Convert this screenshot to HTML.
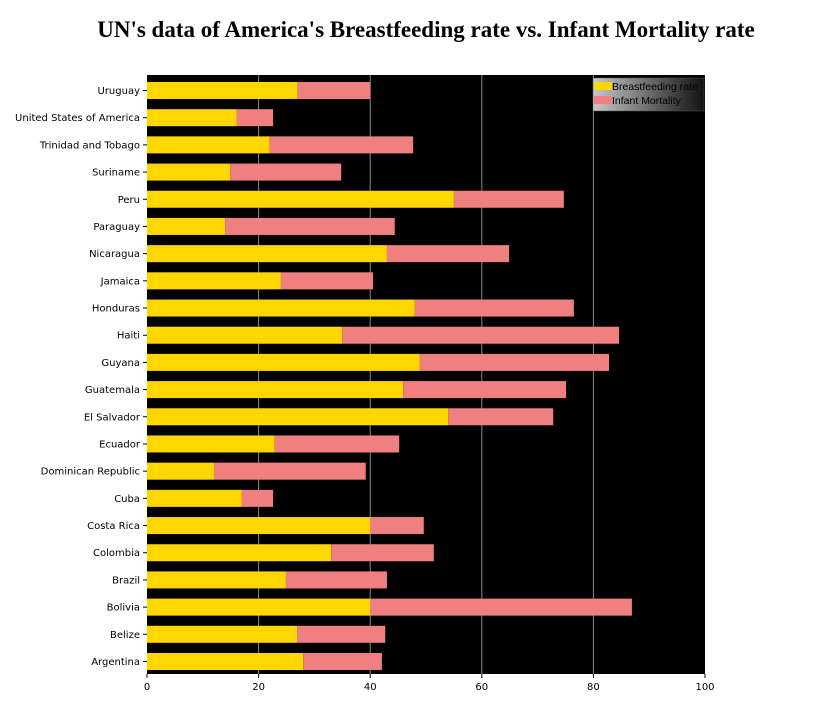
<!DOCTYPE html>
<html><head><meta charset="utf-8"><style>
body{margin:0;background:#fff;}
svg text{font-family:"DejaVu Sans","Liberation Sans",sans-serif;}
</style></head><body>
<svg id="chart" width="827" height="715" xmlns="http://www.w3.org/2000/svg">
<defs><linearGradient id="lg" x1="0" x2="1" y1="0" y2="0"><stop offset="0" stop-color="#c8c8c8"/><stop offset="1" stop-color="#111"/></linearGradient></defs>
<text x="426" y="37" text-anchor="middle" font-size="23" font-weight="bold" style="font-family:'Liberation Serif',serif">UN's data of America's Breastfeeding rate vs. Infant Mortality rate</text>
<rect x="147" y="75" width="558" height="599" fill="#000"/>
<g id="grid"></g><g id="bars"></g><g id="ylabels"></g><g id="xticks"></g>
<g>
<rect x="593" y="78" width="111" height="33" fill="url(#lg)" stroke="#555" stroke-width="0.5"/>
<rect x="594" y="82" width="18" height="8" fill="#FFD700"/>
<text x="612" y="90" font-size="10.5" fill="#000" style="font-family:'Liberation Sans',sans-serif">Breastfeeding rate</text>
<rect x="594" y="96" width="18" height="8" fill="#F08080"/>
<text x="612" y="104" font-size="10.5" fill="#000" style="font-family:'Liberation Sans',sans-serif">Infant Mortality</text>
</g>
</svg>
<script>
const categories=["Uruguay","United States of America","Trinidad and Tobago","Suriname","Peru","Paraguay","Nicaragua","Jamaica","Honduras","Haiti","Guyana","Guatemala","El Salvador","Ecuador","Dominican Republic","Cuba","Costa Rica","Colombia","Brazil","Bolivia","Belize","Argentina"];
const breastfeeding=[27,16.1,22,14.9,55,14,43,24,48,35,48.9,45.9,54,22.9,12,17,40,33,24.9,40,26.9,28];
const mortality=[13,6.5,25.7,19.9,19.7,30.4,21.9,16.5,28.5,49.6,33.9,29.2,18.8,22.3,27.2,5.6,9.6,18.4,18.1,46.9,15.8,14.1];
const xTicks=[0,20,40,60,80,100];
const NS="http://www.w3.org/2000/svg";
const x0=147,x1=705,yTop=75,yBot=674;
const xs=v=>x0+(v/100)*(x1-x0);
const firstC=90.5,lastC=661.5;
const step=(lastC-firstC)/(categories.length-1);
const yc=i=>firstC+step*i;
function mk(t,a,p){const e=document.createElementNS(NS,t);for(const k in a)e.setAttribute(k,a[k]);p.appendChild(e);return e;}
const grid=document.getElementById('grid'),bars=document.getElementById('bars'),yl=document.getElementById('ylabels'),xt=document.getElementById('xticks');
xTicks.forEach(v=>{
 if(v>0&&v<100){const l=mk('line',{x1:xs(v),x2:xs(v),y1:yTop,y2:yBot,stroke:'#888','stroke-width':1},grid);
 
 }
 const tk=mk('line',{x1:xs(v),x2:xs(v),y1:yBot,y2:yBot+4,stroke:'#000'},xt);
 
 
 const t=mk('text',{x:xs(v),y:yBot+16,'text-anchor':'middle','font-size':10},xt);t.textContent=v;
 
 
});
const bh=17;
categories.forEach((c,i)=>{
 const y=yc(i);
 const r1=mk('rect',{x:xs(0),y:y-bh/2,width:xs(breastfeeding[i])-xs(0),height:bh,fill:'#FFD700'},bars);
 
 
 const r2=mk('rect',{x:xs(breastfeeding[i]),y:y-bh/2,width:xs(breastfeeding[i]+mortality[i])-xs(breastfeeding[i]),height:bh,fill:'#F08080'},bars);
 
 
 const t=mk('text',{x:140,y:y+3.5,'text-anchor':'end','font-size':10},yl);t.textContent=c;
 
 
 const tk=mk('line',{x1:143,x2:147,y1:y,y2:y,stroke:'#000'},yl);
 
 
});
</script>
</body></html>
